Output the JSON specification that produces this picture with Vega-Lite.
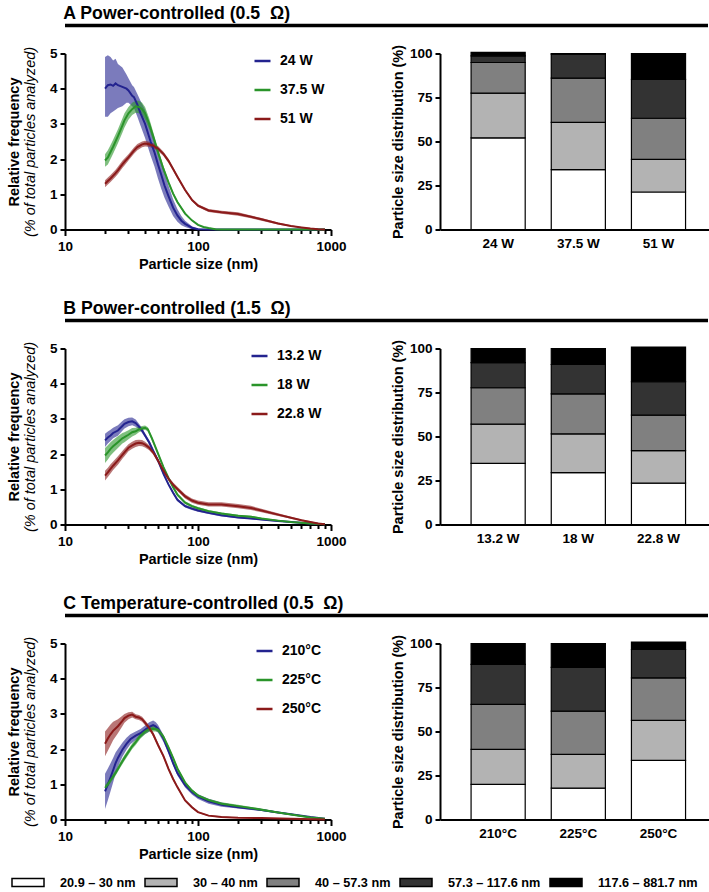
{
"$schema": "https://vega.github.io/schema/vega-lite/v6.json",
"padding": {"left": 6, "top": 4.5, "right": 4, "bottom": 3},
"config": {
 "font": "Liberation Sans",
 "view": {"stroke": null},
 "axis": {"grid": false, "domainColor": "black", "domainWidth": 2, "tickColor": "black", "tickWidth": 2, "labelColor": "black", "labelFontSize": 13.5, "labelFontWeight": "bold", "titleColor": "black", "titleFontSize": 14.5, "titleFontWeight": "bold"}
},
"datasets": {
 "curves": [
{"p":"A","s":"24 W","x":20,"y":4.0,"l":3.2,"h":4.9},{"p":"A","s":"24 W","x":21,"y":4.1,"l":3.2,"h":4.95},{"p":"A","s":"24 W","x":22,"y":4.12,"l":3.3,"h":4.9},{"p":"A","s":"24 W","x":23,"y":4.08,"l":3.35,"h":4.8},{"p":"A","s":"24 W","x":24,"y":4.15,"l":3.4,"h":4.85},{"p":"A","s":"24 W","x":25,"y":4.1,"l":3.45,"h":4.7},{"p":"A","s":"24 W","x":27,"y":4.05,"l":3.5,"h":4.6},{"p":"A","s":"24 W","x":29,"y":4.0,"l":3.6,"h":4.4},{"p":"A","s":"24 W","x":30,"y":3.95,"l":3.6,"h":4.3},{"p":"A","s":"24 W","x":32,"y":3.8,"l":3.5,"h":4.1},{"p":"A","s":"24 W","x":33,"y":3.76,"l":3.45,"h":4.05},{"p":"A","s":"24 W","x":35,"y":3.55,"l":3.2,"h":3.85},{"p":"A","s":"24 W","x":37,"y":3.3,"l":2.95,"h":3.65},{"p":"A","s":"24 W","x":40,"y":3.0,"l":2.6,"h":3.4},{"p":"A","s":"24 W","x":44,"y":2.5,"l":2.1,"h":2.9},{"p":"A","s":"24 W","x":47,"y":2.2,"l":1.8,"h":2.6},{"p":"A","s":"24 W","x":50,"y":1.85,"l":1.45,"h":2.25},{"p":"A","s":"24 W","x":53,"y":1.55,"l":1.15,"h":1.95},{"p":"A","s":"24 W","x":56,"y":1.25,"l":0.9,"h":1.6},{"p":"A","s":"24 W","x":60,"y":0.95,"l":0.65,"h":1.25},{"p":"A","s":"24 W","x":65,"y":0.62,"l":0.38,"h":0.86},{"p":"A","s":"24 W","x":70,"y":0.4,"l":0.22,"h":0.58},{"p":"A","s":"24 W","x":75,"y":0.25,"l":0.12,"h":0.38},{"p":"A","s":"24 W","x":80,"y":0.16,"l":0.07,"h":0.25},{"p":"A","s":"24 W","x":90,"y":0.05,"l":0.01,"h":0.09},{"p":"A","s":"24 W","x":100,"y":0.01,"l":0,"h":0.03},{"p":"A","s":"24 W","x":120,"y":0,"l":0,"h":0.01},{"p":"A","s":"24 W","x":200,"y":0,"l":0,"h":0},{"p":"A","s":"24 W","x":500,"y":0,"l":0,"h":0},{"p":"A","s":"24 W","x":900,"y":0,"l":0,"h":0},
{"p":"A","s":"37.5 W","x":20,"y":1.96,"l":1.78,"h":2.14},{"p":"A","s":"37.5 W","x":21,"y":2.05,"l":1.85,"h":2.25},{"p":"A","s":"37.5 W","x":22,"y":2.2,"l":2.0,"h":2.4},{"p":"A","s":"37.5 W","x":23,"y":2.35,"l":2.15,"h":2.55},{"p":"A","s":"37.5 W","x":25,"y":2.65,"l":2.45,"h":2.85},{"p":"A","s":"37.5 W","x":27,"y":2.95,"l":2.75,"h":3.15},{"p":"A","s":"37.5 W","x":28,"y":3.1,"l":2.9,"h":3.3},{"p":"A","s":"37.5 W","x":30,"y":3.3,"l":3.12,"h":3.48},{"p":"A","s":"37.5 W","x":32,"y":3.42,"l":3.25,"h":3.6},{"p":"A","s":"37.5 W","x":34,"y":3.5,"l":3.32,"h":3.66},{"p":"A","s":"37.5 W","x":36,"y":3.48,"l":3.3,"h":3.66},{"p":"A","s":"37.5 W","x":38,"y":3.42,"l":3.25,"h":3.6},{"p":"A","s":"37.5 W","x":40,"y":3.3,"l":3.12,"h":3.48},{"p":"A","s":"37.5 W","x":43,"y":3.0,"l":2.85,"h":3.15},{"p":"A","s":"37.5 W","x":46,"y":2.65,"l":2.52,"h":2.78},{"p":"A","s":"37.5 W","x":50,"y":2.2,"l":2.1,"h":2.3},{"p":"A","s":"37.5 W","x":55,"y":1.72,"l":1.64,"h":1.8},{"p":"A","s":"37.5 W","x":60,"y":1.34,"l":1.28,"h":1.4},{"p":"A","s":"37.5 W","x":65,"y":1.02,"l":0.97,"h":1.07},{"p":"A","s":"37.5 W","x":70,"y":0.78,"l":0.74,"h":0.82},{"p":"A","s":"37.5 W","x":80,"y":0.45,"l":0.42,"h":0.48},{"p":"A","s":"37.5 W","x":90,"y":0.26,"l":0.24,"h":0.28},{"p":"A","s":"37.5 W","x":100,"y":0.13,"l":0.12,"h":0.15},{"p":"A","s":"37.5 W","x":110,"y":0.07,"l":0.06,"h":0.08},{"p":"A","s":"37.5 W","x":120,"y":0.04,"l":0.03,"h":0.05},{"p":"A","s":"37.5 W","x":135,"y":0.01,"l":0,"h":0.02},{"p":"A","s":"37.5 W","x":150,"y":0,"l":0,"h":0},{"p":"A","s":"37.5 W","x":300,"y":0,"l":0,"h":0},{"p":"A","s":"37.5 W","x":900,"y":0,"l":0,"h":0},
{"p":"A","s":"51 W","x":20,"y":1.3,"l":1.2,"h":1.4},{"p":"A","s":"51 W","x":21,"y":1.38,"l":1.28,"h":1.48},{"p":"A","s":"51 W","x":22,"y":1.45,"l":1.35,"h":1.55},{"p":"A","s":"51 W","x":24,"y":1.6,"l":1.5,"h":1.7},{"p":"A","s":"51 W","x":25,"y":1.68,"l":1.58,"h":1.78},{"p":"A","s":"51 W","x":27,"y":1.85,"l":1.75,"h":1.95},{"p":"A","s":"51 W","x":28,"y":1.92,"l":1.82,"h":2.02},{"p":"A","s":"51 W","x":30,"y":2.05,"l":1.96,"h":2.14},{"p":"A","s":"51 W","x":33,"y":2.24,"l":2.15,"h":2.33},{"p":"A","s":"51 W","x":35,"y":2.34,"l":2.25,"h":2.43},{"p":"A","s":"51 W","x":38,"y":2.42,"l":2.34,"h":2.5},{"p":"A","s":"51 W","x":40,"y":2.44,"l":2.36,"h":2.52},{"p":"A","s":"51 W","x":43,"y":2.42,"l":2.35,"h":2.49},{"p":"A","s":"51 W","x":46,"y":2.38,"l":2.31,"h":2.45},{"p":"A","s":"51 W","x":50,"y":2.3,"l":2.23,"h":2.37},{"p":"A","s":"51 W","x":55,"y":2.15,"l":2.09,"h":2.21},{"p":"A","s":"51 W","x":60,"y":1.95,"l":1.89,"h":2.01},{"p":"A","s":"51 W","x":65,"y":1.72,"l":1.67,"h":1.77},{"p":"A","s":"51 W","x":70,"y":1.5,"l":1.45,"h":1.55},{"p":"A","s":"51 W","x":80,"y":1.12,"l":1.08,"h":1.16},{"p":"A","s":"51 W","x":90,"y":0.84,"l":0.8,"h":0.88},{"p":"A","s":"51 W","x":100,"y":0.68,"l":0.64,"h":0.72},{"p":"A","s":"51 W","x":120,"y":0.54,"l":0.5,"h":0.58},{"p":"A","s":"51 W","x":150,"y":0.49,"l":0.45,"h":0.53},{"p":"A","s":"51 W","x":200,"y":0.44,"l":0.39,"h":0.49},{"p":"A","s":"51 W","x":250,"y":0.36,"l":0.32,"h":0.4},{"p":"A","s":"51 W","x":300,"y":0.29,"l":0.25,"h":0.33},{"p":"A","s":"51 W","x":400,"y":0.17,"l":0.14,"h":0.2},{"p":"A","s":"51 W","x":500,"y":0.1,"l":0.08,"h":0.12},{"p":"A","s":"51 W","x":600,"y":0.06,"l":0.05,"h":0.07},{"p":"A","s":"51 W","x":700,"y":0.03,"l":0.02,"h":0.04},{"p":"A","s":"51 W","x":800,"y":0.01,"l":0,"h":0.02},{"p":"A","s":"51 W","x":900,"y":0,"l":0,"h":0},
{"p":"B","s":"13.2 W","x":20,"y":2.39,"l":2.2,"h":2.58},{"p":"B","s":"13.2 W","x":21,"y":2.47,"l":2.3,"h":2.64},{"p":"B","s":"13.2 W","x":22,"y":2.53,"l":2.37,"h":2.69},{"p":"B","s":"13.2 W","x":23,"y":2.6,"l":2.45,"h":2.75},{"p":"B","s":"13.2 W","x":25,"y":2.67,"l":2.52,"h":2.82},{"p":"B","s":"13.2 W","x":27,"y":2.8,"l":2.66,"h":2.94},{"p":"B","s":"13.2 W","x":28,"y":2.86,"l":2.73,"h":2.99},{"p":"B","s":"13.2 W","x":30,"y":2.91,"l":2.79,"h":3.03},{"p":"B","s":"13.2 W","x":32,"y":2.93,"l":2.82,"h":3.04},{"p":"B","s":"13.2 W","x":34,"y":2.88,"l":2.78,"h":2.98},{"p":"B","s":"13.2 W","x":36,"y":2.78,"l":2.7,"h":2.86},{"p":"B","s":"13.2 W","x":38,"y":2.67,"l":2.6,"h":2.74},{"p":"B","s":"13.2 W","x":40,"y":2.53,"l":2.47,"h":2.59},{"p":"B","s":"13.2 W","x":43,"y":2.33,"l":2.27,"h":2.39},{"p":"B","s":"13.2 W","x":46,"y":2.1,"l":2.05,"h":2.15},{"p":"B","s":"13.2 W","x":50,"y":1.82,"l":1.77,"h":1.87},{"p":"B","s":"13.2 W","x":55,"y":1.44,"l":1.4,"h":1.48},{"p":"B","s":"13.2 W","x":60,"y":1.14,"l":1.1,"h":1.18},{"p":"B","s":"13.2 W","x":65,"y":0.9,"l":0.86,"h":0.94},{"p":"B","s":"13.2 W","x":70,"y":0.7,"l":0.66,"h":0.74},{"p":"B","s":"13.2 W","x":80,"y":0.52,"l":0.48,"h":0.56},{"p":"B","s":"13.2 W","x":90,"y":0.45,"l":0.41,"h":0.49},{"p":"B","s":"13.2 W","x":100,"y":0.4,"l":0.36,"h":0.44},{"p":"B","s":"13.2 W","x":120,"y":0.33,"l":0.3,"h":0.36},{"p":"B","s":"13.2 W","x":150,"y":0.26,"l":0.23,"h":0.29},{"p":"B","s":"13.2 W","x":200,"y":0.2,"l":0.18,"h":0.22},{"p":"B","s":"13.2 W","x":250,"y":0.17,"l":0.15,"h":0.19},{"p":"B","s":"13.2 W","x":300,"y":0.14,"l":0.12,"h":0.16},{"p":"B","s":"13.2 W","x":400,"y":0.1,"l":0.08,"h":0.12},{"p":"B","s":"13.2 W","x":500,"y":0.07,"l":0.06,"h":0.08},{"p":"B","s":"13.2 W","x":700,"y":0.03,"l":0.02,"h":0.04},{"p":"B","s":"13.2 W","x":900,"y":0.01,"l":0,"h":0.02},
{"p":"B","s":"18 W","x":20,"y":1.96,"l":1.75,"h":2.17},{"p":"B","s":"18 W","x":21,"y":2.05,"l":1.85,"h":2.25},{"p":"B","s":"18 W","x":22,"y":2.15,"l":1.96,"h":2.34},{"p":"B","s":"18 W","x":23,"y":2.22,"l":2.04,"h":2.4},{"p":"B","s":"18 W","x":25,"y":2.34,"l":2.17,"h":2.51},{"p":"B","s":"18 W","x":27,"y":2.45,"l":2.3,"h":2.6},{"p":"B","s":"18 W","x":28,"y":2.48,"l":2.34,"h":2.62},{"p":"B","s":"18 W","x":30,"y":2.55,"l":2.42,"h":2.68},{"p":"B","s":"18 W","x":32,"y":2.62,"l":2.5,"h":2.74},{"p":"B","s":"18 W","x":34,"y":2.65,"l":2.55,"h":2.75},{"p":"B","s":"18 W","x":36,"y":2.7,"l":2.62,"h":2.78},{"p":"B","s":"18 W","x":38,"y":2.73,"l":2.66,"h":2.8},{"p":"B","s":"18 W","x":40,"y":2.75,"l":2.69,"h":2.81},{"p":"B","s":"18 W","x":42,"y":2.7,"l":2.64,"h":2.76},{"p":"B","s":"18 W","x":45,"y":2.45,"l":2.4,"h":2.5},{"p":"B","s":"18 W","x":50,"y":2.02,"l":1.97,"h":2.07},{"p":"B","s":"18 W","x":55,"y":1.63,"l":1.59,"h":1.67},{"p":"B","s":"18 W","x":60,"y":1.32,"l":1.28,"h":1.36},{"p":"B","s":"18 W","x":65,"y":1.06,"l":1.02,"h":1.1},{"p":"B","s":"18 W","x":70,"y":0.85,"l":0.81,"h":0.89},{"p":"B","s":"18 W","x":80,"y":0.62,"l":0.58,"h":0.66},{"p":"B","s":"18 W","x":90,"y":0.52,"l":0.48,"h":0.56},{"p":"B","s":"18 W","x":100,"y":0.46,"l":0.42,"h":0.5},{"p":"B","s":"18 W","x":120,"y":0.38,"l":0.35,"h":0.41},{"p":"B","s":"18 W","x":150,"y":0.31,"l":0.28,"h":0.34},{"p":"B","s":"18 W","x":200,"y":0.25,"l":0.22,"h":0.28},{"p":"B","s":"18 W","x":250,"y":0.22,"l":0.19,"h":0.25},{"p":"B","s":"18 W","x":300,"y":0.17,"l":0.15,"h":0.19},{"p":"B","s":"18 W","x":400,"y":0.11,"l":0.09,"h":0.13},{"p":"B","s":"18 W","x":500,"y":0.07,"l":0.06,"h":0.08},{"p":"B","s":"18 W","x":700,"y":0.03,"l":0.02,"h":0.04},{"p":"B","s":"18 W","x":900,"y":0.01,"l":0,"h":0.02},
{"p":"B","s":"22.8 W","x":20,"y":1.39,"l":1.25,"h":1.53},{"p":"B","s":"22.8 W","x":21,"y":1.48,"l":1.35,"h":1.61},{"p":"B","s":"22.8 W","x":22,"y":1.58,"l":1.45,"h":1.71},{"p":"B","s":"22.8 W","x":23,"y":1.67,"l":1.55,"h":1.79},{"p":"B","s":"22.8 W","x":25,"y":1.82,"l":1.7,"h":1.94},{"p":"B","s":"22.8 W","x":27,"y":1.98,"l":1.87,"h":2.09},{"p":"B","s":"22.8 W","x":28,"y":2.05,"l":1.94,"h":2.16},{"p":"B","s":"22.8 W","x":30,"y":2.18,"l":2.08,"h":2.28},{"p":"B","s":"22.8 W","x":32,"y":2.25,"l":2.15,"h":2.35},{"p":"B","s":"22.8 W","x":34,"y":2.3,"l":2.2,"h":2.4},{"p":"B","s":"22.8 W","x":36,"y":2.32,"l":2.23,"h":2.41},{"p":"B","s":"22.8 W","x":38,"y":2.31,"l":2.22,"h":2.4},{"p":"B","s":"22.8 W","x":40,"y":2.27,"l":2.19,"h":2.35},{"p":"B","s":"22.8 W","x":43,"y":2.18,"l":2.11,"h":2.25},{"p":"B","s":"22.8 W","x":46,"y":2.05,"l":1.99,"h":2.11},{"p":"B","s":"22.8 W","x":50,"y":1.82,"l":1.76,"h":1.88},{"p":"B","s":"22.8 W","x":55,"y":1.53,"l":1.47,"h":1.59},{"p":"B","s":"22.8 W","x":60,"y":1.3,"l":1.24,"h":1.36},{"p":"B","s":"22.8 W","x":65,"y":1.13,"l":1.07,"h":1.19},{"p":"B","s":"22.8 W","x":70,"y":1.01,"l":0.95,"h":1.07},{"p":"B","s":"22.8 W","x":80,"y":0.8,"l":0.74,"h":0.86},{"p":"B","s":"22.8 W","x":90,"y":0.68,"l":0.62,"h":0.74},{"p":"B","s":"22.8 W","x":100,"y":0.62,"l":0.56,"h":0.68},{"p":"B","s":"22.8 W","x":120,"y":0.57,"l":0.51,"h":0.63},{"p":"B","s":"22.8 W","x":150,"y":0.57,"l":0.51,"h":0.63},{"p":"B","s":"22.8 W","x":200,"y":0.52,"l":0.46,"h":0.58},{"p":"B","s":"22.8 W","x":250,"y":0.47,"l":0.41,"h":0.53},{"p":"B","s":"22.8 W","x":300,"y":0.4,"l":0.35,"h":0.45},{"p":"B","s":"22.8 W","x":400,"y":0.28,"l":0.24,"h":0.32},{"p":"B","s":"22.8 W","x":500,"y":0.19,"l":0.16,"h":0.22},{"p":"B","s":"22.8 W","x":600,"y":0.12,"l":0.1,"h":0.14},{"p":"B","s":"22.8 W","x":700,"y":0.07,"l":0.05,"h":0.09},{"p":"B","s":"22.8 W","x":800,"y":0.03,"l":0.02,"h":0.04},{"p":"B","s":"22.8 W","x":900,"y":0.01,"l":0,"h":0.02},
{"p":"C","s":"210°C","x":20,"y":0.8,"l":0.3,"h":1.3},{"p":"C","s":"210°C","x":21,"y":1.0,"l":0.55,"h":1.45},{"p":"C","s":"210°C","x":22,"y":1.2,"l":0.8,"h":1.6},{"p":"C","s":"210°C","x":23,"y":1.4,"l":1.05,"h":1.75},{"p":"C","s":"210°C","x":24,"y":1.6,"l":1.3,"h":1.9},{"p":"C","s":"210°C","x":25,"y":1.75,"l":1.5,"h":2.0},{"p":"C","s":"210°C","x":27,"y":1.98,"l":1.78,"h":2.18},{"p":"C","s":"210°C","x":29,"y":2.15,"l":1.98,"h":2.32},{"p":"C","s":"210°C","x":31,"y":2.28,"l":2.14,"h":2.42},{"p":"C","s":"210°C","x":34,"y":2.38,"l":2.26,"h":2.5},{"p":"C","s":"210°C","x":37,"y":2.45,"l":2.33,"h":2.57},{"p":"C","s":"210°C","x":40,"y":2.55,"l":2.43,"h":2.67},{"p":"C","s":"210°C","x":43,"y":2.63,"l":2.5,"h":2.76},{"p":"C","s":"210°C","x":46,"y":2.68,"l":2.55,"h":2.81},{"p":"C","s":"210°C","x":48,"y":2.65,"l":2.53,"h":2.77},{"p":"C","s":"210°C","x":50,"y":2.58,"l":2.47,"h":2.69},{"p":"C","s":"210°C","x":55,"y":2.3,"l":2.2,"h":2.4},{"p":"C","s":"210°C","x":60,"y":1.95,"l":1.87,"h":2.03},{"p":"C","s":"210°C","x":65,"y":1.6,"l":1.53,"h":1.67},{"p":"C","s":"210°C","x":70,"y":1.32,"l":1.25,"h":1.39},{"p":"C","s":"210°C","x":80,"y":0.98,"l":0.91,"h":1.05},{"p":"C","s":"210°C","x":90,"y":0.78,"l":0.71,"h":0.85},{"p":"C","s":"210°C","x":100,"y":0.65,"l":0.58,"h":0.72},{"p":"C","s":"210°C","x":120,"y":0.52,"l":0.45,"h":0.59},{"p":"C","s":"210°C","x":150,"y":0.42,"l":0.36,"h":0.48},{"p":"C","s":"210°C","x":200,"y":0.35,"l":0.31,"h":0.39},{"p":"C","s":"210°C","x":300,"y":0.27,"l":0.24,"h":0.3},{"p":"C","s":"210°C","x":400,"y":0.2,"l":0.18,"h":0.22},{"p":"C","s":"210°C","x":500,"y":0.15,"l":0.13,"h":0.17},{"p":"C","s":"210°C","x":700,"y":0.07,"l":0.06,"h":0.08},{"p":"C","s":"210°C","x":900,"y":0.02,"l":0.01,"h":0.03},
{"p":"C","s":"225°C","x":20,"y":0.9,"l":0.82,"h":0.98},{"p":"C","s":"225°C","x":21,"y":1.0,"l":0.92,"h":1.08},{"p":"C","s":"225°C","x":22,"y":1.12,"l":1.04,"h":1.2},{"p":"C","s":"225°C","x":24,"y":1.32,"l":1.24,"h":1.4},{"p":"C","s":"225°C","x":26,"y":1.55,"l":1.47,"h":1.63},{"p":"C","s":"225°C","x":28,"y":1.75,"l":1.67,"h":1.83},{"p":"C","s":"225°C","x":30,"y":1.92,"l":1.84,"h":2.0},{"p":"C","s":"225°C","x":32,"y":2.08,"l":2.0,"h":2.16},{"p":"C","s":"225°C","x":34,"y":2.2,"l":2.12,"h":2.28},{"p":"C","s":"225°C","x":37,"y":2.38,"l":2.3,"h":2.46},{"p":"C","s":"225°C","x":40,"y":2.5,"l":2.42,"h":2.58},{"p":"C","s":"225°C","x":43,"y":2.57,"l":2.49,"h":2.65},{"p":"C","s":"225°C","x":46,"y":2.58,"l":2.5,"h":2.66},{"p":"C","s":"225°C","x":48,"y":2.57,"l":2.5,"h":2.64},{"p":"C","s":"225°C","x":50,"y":2.55,"l":2.48,"h":2.62},{"p":"C","s":"225°C","x":55,"y":2.35,"l":2.29,"h":2.41},{"p":"C","s":"225°C","x":60,"y":2.05,"l":1.99,"h":2.11},{"p":"C","s":"225°C","x":65,"y":1.75,"l":1.7,"h":1.8},{"p":"C","s":"225°C","x":70,"y":1.45,"l":1.4,"h":1.5},{"p":"C","s":"225°C","x":80,"y":1.05,"l":1.01,"h":1.09},{"p":"C","s":"225°C","x":90,"y":0.82,"l":0.78,"h":0.86},{"p":"C","s":"225°C","x":100,"y":0.68,"l":0.64,"h":0.72},{"p":"C","s":"225°C","x":120,"y":0.55,"l":0.51,"h":0.59},{"p":"C","s":"225°C","x":150,"y":0.45,"l":0.41,"h":0.49},{"p":"C","s":"225°C","x":200,"y":0.38,"l":0.34,"h":0.42},{"p":"C","s":"225°C","x":300,"y":0.28,"l":0.25,"h":0.31},{"p":"C","s":"225°C","x":400,"y":0.2,"l":0.18,"h":0.22},{"p":"C","s":"225°C","x":500,"y":0.14,"l":0.12,"h":0.16},{"p":"C","s":"225°C","x":700,"y":0.06,"l":0.05,"h":0.07},{"p":"C","s":"225°C","x":900,"y":0.02,"l":0.01,"h":0.03},
{"p":"C","s":"250°C","x":20,"y":2.15,"l":1.8,"h":2.5},{"p":"C","s":"250°C","x":21,"y":2.3,"l":1.95,"h":2.6},{"p":"C","s":"250°C","x":22,"y":2.42,"l":2.1,"h":2.7},{"p":"C","s":"250°C","x":23,"y":2.52,"l":2.25,"h":2.78},{"p":"C","s":"250°C","x":25,"y":2.65,"l":2.45,"h":2.85},{"p":"C","s":"250°C","x":27,"y":2.8,"l":2.65,"h":2.95},{"p":"C","s":"250°C","x":28,"y":2.88,"l":2.75,"h":3.0},{"p":"C","s":"250°C","x":30,"y":2.95,"l":2.85,"h":3.05},{"p":"C","s":"250°C","x":32,"y":2.98,"l":2.9,"h":3.06},{"p":"C","s":"250°C","x":34,"y":2.92,"l":2.85,"h":2.99},{"p":"C","s":"250°C","x":36,"y":2.9,"l":2.83,"h":2.97},{"p":"C","s":"250°C","x":38,"y":2.85,"l":2.78,"h":2.92},{"p":"C","s":"250°C","x":40,"y":2.75,"l":2.68,"h":2.82},{"p":"C","s":"250°C","x":43,"y":2.6,"l":2.54,"h":2.66},{"p":"C","s":"250°C","x":46,"y":2.42,"l":2.36,"h":2.48},{"p":"C","s":"250°C","x":50,"y":2.12,"l":2.06,"h":2.18},{"p":"C","s":"250°C","x":55,"y":1.8,"l":1.75,"h":1.85},{"p":"C","s":"250°C","x":60,"y":1.44,"l":1.39,"h":1.49},{"p":"C","s":"250°C","x":65,"y":1.15,"l":1.11,"h":1.19},{"p":"C","s":"250°C","x":70,"y":0.92,"l":0.88,"h":0.96},{"p":"C","s":"250°C","x":80,"y":0.54,"l":0.51,"h":0.57},{"p":"C","s":"250°C","x":90,"y":0.35,"l":0.32,"h":0.38},{"p":"C","s":"250°C","x":100,"y":0.21,"l":0.19,"h":0.23},{"p":"C","s":"250°C","x":120,"y":0.11,"l":0.09,"h":0.13},{"p":"C","s":"250°C","x":150,"y":0.07,"l":0.05,"h":0.09},{"p":"C","s":"250°C","x":200,"y":0.05,"l":0.04,"h":0.06},{"p":"C","s":"250°C","x":300,"y":0.04,"l":0.03,"h":0.05},{"p":"C","s":"250°C","x":500,"y":0.02,"l":0.01,"h":0.03},{"p":"C","s":"250°C","x":900,"y":0,"l":0,"h":0.01}
 ],
 "bars": [
{"p":"A","c":"24 W","r":"20.9 – 30 nm","k":1,"v":52.1},{"p":"A","c":"24 W","r":"30 – 40 nm","k":2,"v":25.4},{"p":"A","c":"24 W","r":"40 – 57.3 nm","k":3,"v":17.4},{"p":"A","c":"24 W","r":"57.3 – 117.6 nm","k":4,"v":3.8},{"p":"A","c":"24 W","r":"117.6 – 881.7 nm","k":5,"v":1.9},
{"p":"A","c":"37.5 W","r":"20.9 – 30 nm","k":1,"v":34},{"p":"A","c":"37.5 W","r":"30 – 40 nm","k":2,"v":26.9},{"p":"A","c":"37.5 W","r":"40 – 57.3 nm","k":3,"v":25.1},{"p":"A","c":"37.5 W","r":"57.3 – 117.6 nm","k":4,"v":13.6},{"p":"A","c":"37.5 W","r":"117.6 – 881.7 nm","k":5,"v":0.4},
{"p":"A","c":"51 W","r":"20.9 – 30 nm","k":1,"v":21.3},{"p":"A","c":"51 W","r":"30 – 40 nm","k":2,"v":18.5},{"p":"A","c":"51 W","r":"40 – 57.3 nm","k":3,"v":23.4},{"p":"A","c":"51 W","r":"57.3 – 117.6 nm","k":4,"v":22.1},{"p":"A","c":"51 W","r":"117.6 – 881.7 nm","k":5,"v":14.7},
{"p":"B","c":"13.2 W","r":"20.9 – 30 nm","k":1,"v":34.7},{"p":"B","c":"13.2 W","r":"30 – 40 nm","k":2,"v":22.3},{"p":"B","c":"13.2 W","r":"40 – 57.3 nm","k":3,"v":20.7},{"p":"B","c":"13.2 W","r":"57.3 – 117.6 nm","k":4,"v":14.3},{"p":"B","c":"13.2 W","r":"117.6 – 881.7 nm","k":5,"v":8},
{"p":"B","c":"18 W","r":"20.9 – 30 nm","k":1,"v":29.5},{"p":"B","c":"18 W","r":"30 – 40 nm","k":2,"v":22},{"p":"B","c":"18 W","r":"40 – 57.3 nm","k":3,"v":22.7},{"p":"B","c":"18 W","r":"57.3 – 117.6 nm","k":4,"v":16.7},{"p":"B","c":"18 W","r":"117.6 – 881.7 nm","k":5,"v":9.1},
{"p":"B","c":"22.8 W","r":"20.9 – 30 nm","k":1,"v":23.5},{"p":"B","c":"22.8 W","r":"30 – 40 nm","k":2,"v":18.5},{"p":"B","c":"22.8 W","r":"40 – 57.3 nm","k":3,"v":20.1},{"p":"B","c":"22.8 W","r":"57.3 – 117.6 nm","k":4,"v":19},{"p":"B","c":"22.8 W","r":"117.6 – 881.7 nm","k":5,"v":19.7},
{"p":"C","c":"210°C","r":"20.9 – 30 nm","k":1,"v":20},{"p":"C","c":"210°C","r":"30 – 40 nm","k":2,"v":19.9},{"p":"C","c":"210°C","r":"40 – 57.3 nm","k":3,"v":25.5},{"p":"C","c":"210°C","r":"57.3 – 117.6 nm","k":4,"v":22.7},{"p":"C","c":"210°C","r":"117.6 – 881.7 nm","k":5,"v":11.9},
{"p":"C","c":"225°C","r":"20.9 – 30 nm","k":1,"v":17.8},{"p":"C","c":"225°C","r":"30 – 40 nm","k":2,"v":19.2},{"p":"C","c":"225°C","r":"40 – 57.3 nm","k":3,"v":24.6},{"p":"C","c":"225°C","r":"57.3 – 117.6 nm","k":4,"v":24.8},{"p":"C","c":"225°C","r":"117.6 – 881.7 nm","k":5,"v":13.6},
{"p":"C","c":"250°C","r":"20.9 – 30 nm","k":1,"v":33.6},{"p":"C","c":"250°C","r":"30 – 40 nm","k":2,"v":22.7},{"p":"C","c":"250°C","r":"40 – 57.3 nm","k":3,"v":24.2},{"p":"C","c":"250°C","r":"57.3 – 117.6 nm","k":4,"v":16.1},{"p":"C","c":"250°C","r":"117.6 – 881.7 nm","k":5,"v":4.2}
 ]
},
"resolve": {"scale": {"color": "independent", "fill": "shared"}, "legend": {"color": "independent", "fill": "shared"}},
"spacing": 29,
"vconcat": [
 {"spacing": 16,
  "resolve": {"scale": {"color": "independent", "fill": "shared"}, "legend": {"color": "independent", "fill": "shared"}},
  "vconcat": [
   {"data": {"values": [{}]}, "width": 643, "height": 1,
    "title": {"text": "A Power-controlled (0.5\u00a0 Ω)", "anchor": "start", "fontSize": 17.7, "fontWeight": "bold", "color": "black", "offset": 1.5},
    "mark": {"type": "rule", "strokeWidth": 3.5, "color": "black"},
    "encoding": {"y": {"datum": 0, "type": "quantitative", "scale": {"domain": [0, 1]}, "axis": null}}},
   {"spacing": 43,
    "resolve": {"scale": {"color": "independent", "fill": "shared"}, "legend": {"color": "independent", "fill": "shared"}},
    "hconcat": [
     {"width": 266, "height": 176,
      "encoding": {"x": {"field": "x", "type": "quantitative", "scale": {"type": "log", "domain": [10, 1000]},
        "axis": {"values": [10,20,30,40,50,60,70,80,90,100,200,300,400,500,600,700,800,900,1000], "labelExpr": "datum.value == 10 || datum.value == 100 || datum.value == 1000 ? '' + datum.value : ''", "tickSize": {"condition": {"test": "datum.value == 10 || datum.value == 100 || datum.value == 1000", "value": 6}, "value": 4}, "labelOverlap": false, "labelFlush": false, "labelPadding": 4, "title": "Particle size (nm)", "titlePadding": 4}}},
      "layer": [
       {"data": {"name": "curves"}, "transform": [{"filter": "datum.p == 'A'"}],
        "mark": {"type": "area", "fillOpacity": 0.6},
        "encoding": {"y": {"field": "l", "type": "quantitative", "scale": {"domain": [0, 5], "nice": false}, "axis": {"values": [0,1,2,3,4,5], "tickSize": 5, "labelPadding": 3, "title": "(% of total particles analyzed)", "titleFontStyle": "italic", "titleFontWeight": "normal", "titlePadding": 12}},
         "y2": {"field": "h"},
         "color": {"field": "s", "type": "nominal", "scale": {"domain": ["24 W", "37.5 W", "51 W"], "range": ["#23238f", "#2a942a", "#8b1a1a"]}}}},
       {"data": {"name": "curves"}, "transform": [{"filter": "datum.p == 'A'"}],
        "mark": {"type": "line", "strokeWidth": 2},
        "encoding": {"y": {"field": "y", "type": "quantitative", "scale": {"domain": [0, 5], "nice": false}, "axis": {"orient": "left", "labels": false, "ticks": false, "domain": false, "title": "Relative frequency", "titlePadding": 44}},
         "color": {"field": "s", "type": "nominal", "scale": {"domain": ["24 W", "37.5 W", "51 W"], "range": ["#23238f", "#2a942a", "#8b1a1a"]},
          "legend": {"orient": "none", "legendX": 188, "legendY": -2, "title": null, "symbolType": "stroke", "symbolSize": 256, "symbolStrokeWidth": 2.5, "symbolOpacity": 1, "labelFontSize": 14, "labelFontWeight": "bold", "labelColor": "black", "labelOffset": 8, "rowPadding": 12}}}}
      ],
      "resolve": {"scale": {"y": "independent"}, "axis": {"y": "independent"}}},
     {"width": 269, "height": 176, "data": {"name": "bars"}, "transform": [{"filter": "datum.p == 'A'"}],
      "mark": {"type": "bar", "stroke": "black", "strokeWidth": 1.2},
      "encoding": {
       "x": {"field": "c", "type": "nominal", "sort": null, "scale": {"paddingInner": 0.325, "paddingOuter": 0.34, "align": 0.57}, "axis": {"title": null, "labelAngle": 0, "ticks": false, "labelPadding": 7}},
       "y": {"field": "v", "type": "quantitative", "stack": "zero", "scale": {"domain": [0, 100], "nice": false}, "axis": {"values": [0,25,50,75,100], "tickSize": 5, "labelPadding": 3, "title": "Particle size distribution (%)", "titlePadding": 4}},
       "fill": {"field": "r", "type": "nominal", "scale": {"domain": ["20.9 – 30 nm", "30 – 40 nm", "40 – 57.3 nm", "57.3 – 117.6 nm", "117.6 – 881.7 nm"], "range": ["#ffffff", "#b3b3b3", "#808080", "#333333", "#000000"]},
        "legend": {"orient": "none", "legendX": -54, "legendY": 841, "direction": "horizontal", "title": null, "symbolType": "M-1,-0.25H1V0.25H-1Z", "symbolSize": 1024, "symbolStrokeColor": "black", "symbolStrokeWidth": 1.5, "labelFontSize": 12.7, "labelFontWeight": "bold", "labelColor": "black", "labelOffset": 15, "columnPadding": 6, "padding": 0}},
       "order": {"field": "k", "type": "quantitative"}}}
    ]}
  ]},
 {"spacing": 16,
  "resolve": {"scale": {"color": "independent", "fill": "shared"}, "legend": {"color": "independent", "fill": "shared"}},
  "vconcat": [
   {"data": {"values": [{}]}, "width": 643, "height": 1,
    "title": {"text": "B Power-controlled (1.5\u00a0 Ω)", "anchor": "start", "fontSize": 17.7, "fontWeight": "bold", "color": "black", "offset": 1.5},
    "mark": {"type": "rule", "strokeWidth": 3.5, "color": "black"},
    "encoding": {"y": {"datum": 0, "type": "quantitative", "scale": {"domain": [0, 1]}, "axis": null}}},
   {"spacing": 43,
    "resolve": {"scale": {"color": "independent", "fill": "shared"}, "legend": {"color": "independent", "fill": "shared"}},
    "hconcat": [
     {"width": 266, "height": 176,
      "encoding": {"x": {"field": "x", "type": "quantitative", "scale": {"type": "log", "domain": [10, 1000]},
        "axis": {"values": [10,20,30,40,50,60,70,80,90,100,200,300,400,500,600,700,800,900,1000], "labelExpr": "datum.value == 10 || datum.value == 100 || datum.value == 1000 ? '' + datum.value : ''", "tickSize": {"condition": {"test": "datum.value == 10 || datum.value == 100 || datum.value == 1000", "value": 6}, "value": 4}, "labelOverlap": false, "labelFlush": false, "labelPadding": 4, "title": "Particle size (nm)", "titlePadding": 4}}},
      "layer": [
       {"data": {"name": "curves"}, "transform": [{"filter": "datum.p == 'B'"}],
        "mark": {"type": "area", "fillOpacity": 0.6},
        "encoding": {"y": {"field": "l", "type": "quantitative", "scale": {"domain": [0, 5], "nice": false}, "axis": {"values": [0,1,2,3,4,5], "tickSize": 5, "labelPadding": 3, "title": "(% of total particles analyzed)", "titleFontStyle": "italic", "titleFontWeight": "normal", "titlePadding": 12}},
         "y2": {"field": "h"},
         "color": {"field": "s", "type": "nominal", "scale": {"domain": ["13.2 W", "18 W", "22.8 W"], "range": ["#23238f", "#2a942a", "#8b1a1a"]}}}},
       {"data": {"name": "curves"}, "transform": [{"filter": "datum.p == 'B'"}],
        "mark": {"type": "line", "strokeWidth": 2},
        "encoding": {"y": {"field": "y", "type": "quantitative", "scale": {"domain": [0, 5], "nice": false}, "axis": {"orient": "left", "labels": false, "ticks": false, "domain": false, "title": "Relative frequency", "titlePadding": 44}},
         "color": {"field": "s", "type": "nominal", "scale": {"domain": ["13.2 W", "18 W", "22.8 W"], "range": ["#23238f", "#2a942a", "#8b1a1a"]},
          "legend": {"orient": "none", "legendX": 185, "legendY": -2, "title": null, "symbolType": "stroke", "symbolSize": 256, "symbolStrokeWidth": 2.5, "symbolOpacity": 1, "labelFontSize": 14, "labelFontWeight": "bold", "labelColor": "black", "labelOffset": 8, "rowPadding": 12}}}}
      ],
      "resolve": {"scale": {"y": "independent"}, "axis": {"y": "independent"}}},
     {"width": 269, "height": 176, "data": {"name": "bars"}, "transform": [{"filter": "datum.p == 'B'"}],
      "mark": {"type": "bar", "stroke": "black", "strokeWidth": 1.2},
      "encoding": {
       "x": {"field": "c", "type": "nominal", "sort": null, "scale": {"paddingInner": 0.325, "paddingOuter": 0.34, "align": 0.57}, "axis": {"title": null, "labelAngle": 0, "ticks": false, "labelPadding": 7}},
       "y": {"field": "v", "type": "quantitative", "stack": "zero", "scale": {"domain": [0, 100], "nice": false}, "axis": {"values": [0,25,50,75,100], "tickSize": 5, "labelPadding": 3, "title": "Particle size distribution (%)", "titlePadding": 4}},
       "fill": {"field": "r", "type": "nominal", "scale": {"domain": ["20.9 – 30 nm", "30 – 40 nm", "40 – 57.3 nm", "57.3 – 117.6 nm", "117.6 – 881.7 nm"], "range": ["#ffffff", "#b3b3b3", "#808080", "#333333", "#000000"]},
        "legend": {"orient": "none", "legendX": -54, "legendY": 841, "direction": "horizontal", "title": null, "symbolType": "M-1,-0.25H1V0.25H-1Z", "symbolSize": 1024, "symbolStrokeColor": "black", "symbolStrokeWidth": 1.5, "labelFontSize": 12.7, "labelFontWeight": "bold", "labelColor": "black", "labelOffset": 15, "columnPadding": 6, "padding": 0}},
       "order": {"field": "k", "type": "quantitative"}}}
    ]}
  ]},
 {"spacing": 16,
  "resolve": {"scale": {"color": "independent", "fill": "shared"}, "legend": {"color": "independent", "fill": "shared"}},
  "vconcat": [
   {"data": {"values": [{}]}, "width": 643, "height": 1,
    "title": {"text": "C Temperature-controlled (0.5\u00a0 Ω)", "anchor": "start", "fontSize": 17.7, "fontWeight": "bold", "color": "black", "offset": 1.5},
    "mark": {"type": "rule", "strokeWidth": 3.5, "color": "black"},
    "encoding": {"y": {"datum": 0, "type": "quantitative", "scale": {"domain": [0, 1]}, "axis": null}}},
   {"spacing": 43,
    "resolve": {"scale": {"color": "independent", "fill": "shared"}, "legend": {"color": "independent", "fill": "shared"}},
    "hconcat": [
     {"width": 266, "height": 176,
      "encoding": {"x": {"field": "x", "type": "quantitative", "scale": {"type": "log", "domain": [10, 1000]},
        "axis": {"values": [10,20,30,40,50,60,70,80,90,100,200,300,400,500,600,700,800,900,1000], "labelExpr": "datum.value == 10 || datum.value == 100 || datum.value == 1000 ? '' + datum.value : ''", "tickSize": {"condition": {"test": "datum.value == 10 || datum.value == 100 || datum.value == 1000", "value": 6}, "value": 4}, "labelOverlap": false, "labelFlush": false, "labelPadding": 4, "title": "Particle size (nm)", "titlePadding": 4}}},
      "layer": [
       {"data": {"name": "curves"}, "transform": [{"filter": "datum.p == 'C'"}],
        "mark": {"type": "area", "fillOpacity": 0.6},
        "encoding": {"y": {"field": "l", "type": "quantitative", "scale": {"domain": [0, 5], "nice": false}, "axis": {"values": [0,1,2,3,4,5], "tickSize": 5, "labelPadding": 3, "title": "(% of total particles analyzed)", "titleFontStyle": "italic", "titleFontWeight": "normal", "titlePadding": 12}},
         "y2": {"field": "h"},
         "color": {"field": "s", "type": "nominal", "scale": {"domain": ["210°C", "225°C", "250°C"], "range": ["#23238f", "#2a942a", "#8b1a1a"]}}}},
       {"data": {"name": "curves"}, "transform": [{"filter": "datum.p == 'C'"}],
        "mark": {"type": "line", "strokeWidth": 2},
        "encoding": {"y": {"field": "y", "type": "quantitative", "scale": {"domain": [0, 5], "nice": false}, "axis": {"orient": "left", "labels": false, "ticks": false, "domain": false, "title": "Relative frequency", "titlePadding": 44}},
         "color": {"field": "s", "type": "nominal", "scale": {"domain": ["210°C", "225°C", "250°C"], "range": ["#23238f", "#2a942a", "#8b1a1a"]},
          "legend": {"orient": "none", "legendX": 190, "legendY": -2, "title": null, "symbolType": "stroke", "symbolSize": 256, "symbolStrokeWidth": 2.5, "symbolOpacity": 1, "labelFontSize": 14, "labelFontWeight": "bold", "labelColor": "black", "labelOffset": 8, "rowPadding": 12}}}}
      ],
      "resolve": {"scale": {"y": "independent"}, "axis": {"y": "independent"}}},
     {"width": 269, "height": 176, "data": {"name": "bars"}, "transform": [{"filter": "datum.p == 'C'"}],
      "mark": {"type": "bar", "stroke": "black", "strokeWidth": 1.2},
      "encoding": {
       "x": {"field": "c", "type": "nominal", "sort": null, "scale": {"paddingInner": 0.325, "paddingOuter": 0.34, "align": 0.57}, "axis": {"title": null, "labelAngle": 0, "ticks": false, "labelPadding": 7}},
       "y": {"field": "v", "type": "quantitative", "stack": "zero", "scale": {"domain": [0, 100], "nice": false}, "axis": {"values": [0,25,50,75,100], "tickSize": 5, "labelPadding": 3, "title": "Particle size distribution (%)", "titlePadding": 4}},
       "fill": {"field": "r", "type": "nominal", "scale": {"domain": ["20.9 – 30 nm", "30 – 40 nm", "40 – 57.3 nm", "57.3 – 117.6 nm", "117.6 – 881.7 nm"], "range": ["#ffffff", "#b3b3b3", "#808080", "#333333", "#000000"]},
        "legend": {"orient": "none", "legendX": -54, "legendY": 841, "direction": "horizontal", "title": null, "symbolType": "M-1,-0.25H1V0.25H-1Z", "symbolSize": 1024, "symbolStrokeColor": "black", "symbolStrokeWidth": 1.5, "labelFontSize": 12.7, "labelFontWeight": "bold", "labelColor": "black", "labelOffset": 15, "columnPadding": 6, "padding": 0}},
       "order": {"field": "k", "type": "quantitative"}}}
    ]}
  ]}
]
}
